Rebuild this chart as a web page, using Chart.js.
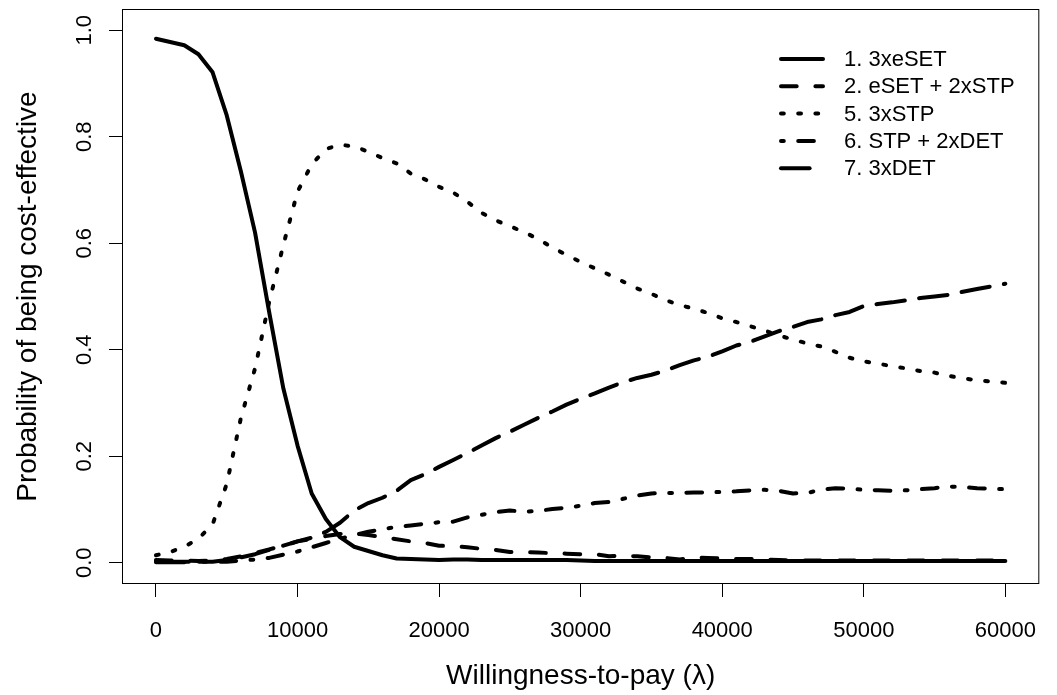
<!DOCTYPE html>
<html>
<head>
<meta charset="utf-8">
<script src="https://cdn.jsdelivr.net/npm/chart.js@4"></script>
<style>
  body { margin: 0; background: #fff; }
</style>
</head>
<body>
<canvas id="ceac" width="1057" height="695"></canvas>
<script>
// Cost-effectiveness acceptability curves
const wtp = [0, 1000, 2000, 3000, 4000, 5000, 6000, 7000, 8000, 9000,
  10000, 11000, 12000, 13000, 14000, 15000, 16000, 17000, 18000, 19000,
  20000, 21000, 22000, 23000, 24000, 25000, 26000, 27000, 28000, 29000,
  30000, 31000, 32000, 33000, 34000, 35000, 36000, 37000, 38000, 39000,
  40000, 41000, 42000, 43000, 44000, 45000, 46000, 47000, 48000, 49000,
  50000, 51000, 52000, 53000, 54000, 55000, 56000, 57000, 58000, 59000, 60000];

const eSET3 = [0.984, 0.978, 0.972, 0.955, 0.921, 0.84, 0.735, 0.62, 0.47, 0.327,
  0.22, 0.13, 0.082, 0.048, 0.03, 0.022, 0.014, 0.008, 0.007, 0.006,
  0.005, 0.006, 0.006, 0.005, 0.005, 0.005, 0.005, 0.005, 0.005, 0.005,
  0.004, 0.003, 0.003, 0.003, 0.003, 0.003, 0.003, 0.003, 0.003, 0.003,
  0.003, 0.003, 0.003, 0.003, 0.003, 0.003, 0.003, 0.003, 0.003, 0.003,
  0.003, 0.003, 0.003, 0.003, 0.003, 0.003, 0.003, 0.003, 0.003, 0.003, 0.003];

const eSET_2STP = [0.005, 0.004, 0.004, 0.003, 0.004, 0.007, 0.012, 0.018, 0.025, 0.032,
  0.04, 0.045, 0.05, 0.054, 0.055, 0.052, 0.048, 0.044, 0.04, 0.037,
  0.032, 0.031, 0.029, 0.026, 0.024, 0.02, 0.02, 0.019, 0.018, 0.017,
  0.016, 0.016, 0.012, 0.013, 0.012, 0.01, 0.009, 0.006, 0.01, 0.009,
  0.008, 0.007, 0.007, 0.006, 0.005, 0.004, 0.004, 0.004, 0.004, 0.004,
  0.004, 0.004, 0.004, 0.004, 0.004, 0.004, 0.004, 0.004, 0.004, 0.004, 0.004];

const STP3 = [0.014, 0.02, 0.03, 0.045, 0.072, 0.148, 0.272, 0.365, 0.49, 0.597,
  0.697, 0.748, 0.777, 0.785, 0.782, 0.772, 0.76, 0.75, 0.731, 0.72,
  0.706, 0.695, 0.678, 0.657, 0.643, 0.632, 0.621, 0.608, 0.592, 0.578,
  0.565, 0.553, 0.541, 0.528, 0.515, 0.505, 0.493, 0.484, 0.477, 0.469,
  0.459, 0.452, 0.444, 0.436, 0.427, 0.419, 0.412, 0.406, 0.396, 0.385,
  0.378, 0.374, 0.369, 0.365, 0.36, 0.357, 0.351, 0.346, 0.343, 0.34, 0.338];

const STP_2DET = [0.003, 0.002, 0.002, 0.002, 0.002, 0.002, 0.004, 0.006, 0.009, 0.015,
  0.021, 0.029, 0.037, 0.045, 0.052, 0.058, 0.063, 0.067, 0.07, 0.073,
  0.076, 0.077, 0.085, 0.09, 0.095, 0.098, 0.096, 0.097, 0.101, 0.103,
  0.107, 0.112, 0.114, 0.12, 0.126, 0.13, 0.131, 0.131, 0.132, 0.132,
  0.133, 0.134, 0.136, 0.137, 0.135, 0.13, 0.131, 0.137, 0.14, 0.139,
  0.137, 0.136, 0.135, 0.136, 0.138, 0.14, 0.143, 0.142, 0.14, 0.139, 0.138];

const DET3 = [0.001, 0.001, 0.001, 0.002, 0.002, 0.005, 0.01, 0.016, 0.024, 0.032,
  0.04, 0.047, 0.058, 0.075, 0.098, 0.112, 0.122, 0.135, 0.155, 0.166,
  0.18, 0.193, 0.206, 0.22, 0.234, 0.246, 0.259, 0.272, 0.284, 0.297,
  0.308, 0.318, 0.329, 0.339, 0.347, 0.353, 0.361, 0.371, 0.38, 0.387,
  0.397, 0.408, 0.415, 0.425, 0.435, 0.443, 0.452, 0.457, 0.465, 0.471,
  0.482, 0.486, 0.489, 0.493, 0.497, 0.5, 0.503, 0.509, 0.514, 0.519, 0.524];

const labels = ["1. 3xeSET", "2. eSET + 2xSTP", "5. 3xSTP", "6. STP + 2xDET", "7. 3xDET"];
const xTicks = [0, 10000, 20000, 30000, 40000, 50000, 60000];
const yTicks = [0, 0.2, 0.4, 0.6, 0.8, 1.0];

// R style line types (lty 1..5), unit = line width
const u = 4.3, c = 1.5;
const ltys = [
  [],
  [4 * u - c, 4 * u + c],
  [u - c, 3 * u + c],
  [u - c, 3 * u + c, 4 * u - c, 3 * u + c],
  [7 * u - c, 3 * u + c]
];
const series = [eSET3, eSET_2STP, STP3, STP_2DET, DET3];

const FONT = '"Liberation Sans", Arial, sans-serif';

// box, rotated y labels and legend like base R graphics
const rStyle = {
  id: "rStyle",
  afterDraw(chart) {
    const { ctx, chartArea: a } = chart;
    const y = chart.scales.y;
    ctx.save();
    ctx.strokeStyle = "#000";
    ctx.lineWidth = 1;
    ctx.strokeRect(a.left + 0.5, a.top + 0.5, a.right - a.left - 1, a.bottom - a.top - 1);

    ctx.fillStyle = "#000";
    ctx.font = "22px " + FONT;
    ctx.textAlign = "center";
    ctx.textBaseline = "middle";
    yTicks.forEach(v => {
      ctx.save();
      ctx.translate(85, y.getPixelForValue(v));
      ctx.rotate(-Math.PI / 2);
      ctx.fillText(v.toFixed(1), 0, 0);
      ctx.restore();
    });

    chart.data.datasets.forEach((ds, i) => {
      const ly = 59 + i * 27.3;
      ctx.setLineDash(ds.borderDash);
      ctx.lineWidth = ds.borderWidth;
      ctx.lineCap = "round";
      ctx.beginPath();
      ctx.moveTo(781, ly);
      ctx.lineTo(823, ly);
      ctx.stroke();
      ctx.setLineDash([]);
      ctx.textAlign = "left";
      ctx.font = "22px " + FONT;
      ctx.fillText(ds.label, 844, ly + 1);
    });
    ctx.restore();
  }
};

new Chart(document.getElementById("ceac").getContext("2d"), {
  type: "line",
  data: {
    labels: wtp,
    datasets: series.map((s, i) => ({
      label: labels[i],
      data: wtp.map((x, j) => ({ x: x, y: s[j] })),
      borderColor: "#000",
      borderWidth: 4,
      borderDash: ltys[i],
      borderCapStyle: "round",
      borderJoinStyle: "round",
      pointRadius: 0,
      tension: 0,
      fill: false
    }))
  },
  options: {
    responsive: false,
    animation: false,
    devicePixelRatio: 1,
    layout: { padding: { top: 9, right: 2, left: 0, bottom: 0 } },
    plugins: { legend: { display: false }, tooltip: { enabled: false } },
    scales: {
      x: {
        type: "linear",
        min: -2400,
        max: 62400,
        afterBuildTicks: s => { s.ticks = xTicks.map(v => ({ value: v })); },
        afterFit: s => { s.height = 111; },
        grid: { drawOnChartArea: false, tickLength: 13, color: "#000" },
        border: { display: false },
        ticks: {
          color: "#000",
          padding: 21,
          maxRotation: 0,
          font: { family: FONT, size: 22 },
          callback: v => String(v)
        },
        title: {
          display: true,
          text: "Willingness-to-pay (λ)",
          color: "#000",
          font: { family: FONT, size: 28 },
          padding: { top: 0, bottom: 2 }
        }
      },
      y: {
        min: -0.04,
        max: 1.04,
        afterBuildTicks: s => { s.ticks = yTicks.map(v => ({ value: v })); },
        afterFit: s => { s.width = 122; },
        grid: { drawOnChartArea: false, tickLength: 13, color: "#000" },
        border: { display: false },
        ticks: { display: false },
        title: {
          display: true,
          text: "Probability of being cost-effective",
          color: "#000",
          font: { family: FONT, size: 28 },
          padding: { top: 11, bottom: 0 }
        }
      }
    }
  },
  plugins: [rStyle]
});
</script>
</body>
</html>
